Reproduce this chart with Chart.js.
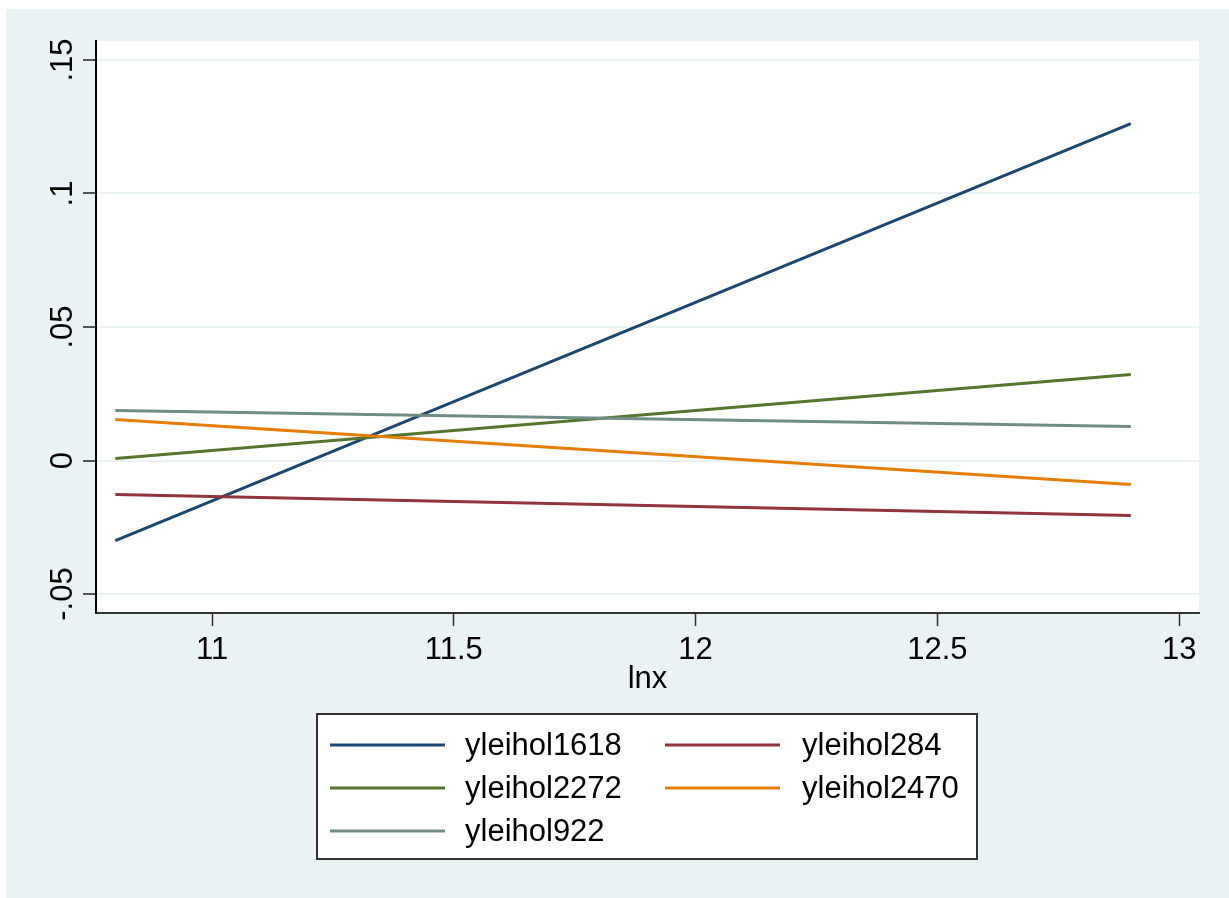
<!DOCTYPE html>
<html>
<head>
<meta charset="utf-8">
<script src="https://cdn.jsdelivr.net/npm/chart.js@4/dist/chart.umd.min.js"></script>
<style>
  html, body { margin: 0; padding: 0; background: #ffffff; }
  #wrap { width: 1229px; height: 898px; position: relative; }
</style>
</head>
<body>
<div id="wrap"><canvas id="c" width="1229" height="898"></canvas></div>
<script>
// ---- data ----
const xValues = [10.8, 12.9];
const seriesNames = ['yleihol1618', 'yleihol284', 'yleihol2272', 'yleihol2470', 'yleihol922'];
const yleihol1618 = [-0.0300, 0.1262];
const yleihol284  = [-0.0127, -0.0206];
const yleihol2272 = [0.0008, 0.0322];
const yleihol2470 = [0.0154, -0.0090];
const yleihol922  = [0.0187, 0.0127];
const seriesColors = ['#1A476F', '#90353B', '#55752F', '#E37E00', '#6E8E84'];
const xTickValues = [11, 11.5, 12, 12.5, 13];
const xTickLabels = ['11', '11.5', '12', '12.5', '13'];
const yTickValues = [-0.05, 0, 0.05, 0.1, 0.15];
const yTickLabels = ['-.05', '0', '.05', '.1', '.15'];
const xTitle = 'lnx';

const seriesValues = [yleihol1618, yleihol284, yleihol2272, yleihol2470, yleihol922];
const FONT = '"Liberation Sans", Arial, Helvetica, sans-serif';
const FS = 31;
const BG = '#EAF2F3';

const datasets = seriesNames.map((name, i) => ({
  label: name,
  data: xValues.map((x, j) => ({ x: x, y: seriesValues[i][j] })),
  borderColor: seriesColors[i],
  backgroundColor: seriesColors[i],
  borderWidth: 3,
  pointRadius: 0,
  tension: 0,
  fill: false,
  order: seriesNames.length - i
}));

const bgPlugin = {
  id: 'bg',
  beforeDraw(chart) {
    const ctx = chart.ctx, a = chart.chartArea;
    ctx.save();
    ctx.fillStyle = '#ffffff';
    ctx.fillRect(0, 0, chart.width, chart.height);
    ctx.fillStyle = BG;
    ctx.fillRect(6, 9, chart.width - 6, chart.height - 9);
    ctx.fillStyle = '#ffffff';
    ctx.fillRect(a.left, a.top, a.right - a.left, a.bottom - a.top);
    ctx.restore();
  },
  afterDraw(chart) {
    const ctx = chart.ctx;
    const ys = chart.scales.y;
    // rotated y tick labels
    ctx.save();
    ctx.fillStyle = '#000';
    ctx.font = FS + 'px ' + FONT;
    ctx.textAlign = 'center';
    ctx.textBaseline = 'alphabetic';
    yTickValues.forEach((v, i) => {
      const py = ys.getPixelForValue(v);
      ctx.save();
      ctx.translate(72, py);
      ctx.rotate(-Math.PI / 2);
      ctx.fillText(yTickLabels[i], 0, 0);
      ctx.restore();
    });
    ctx.restore();

    // legend box
    const bx = 317, by = 714, bw = 660, bh = 145;
    ctx.save();
    ctx.fillStyle = '#ffffff';
    ctx.fillRect(bx, by, bw, bh);
    ctx.strokeStyle = '#333333';
    ctx.lineWidth = 2;
    ctx.strokeRect(bx, by, bw, bh);
    const cols = [{ l0: 330, l1: 445, tx: 465 }, { l0: 665, l1: 780, tx: 802 }];
    const rows = [745, 788, 831];
    ctx.font = FS + 'px ' + FONT;
    ctx.textBaseline = 'middle';
    ctx.textAlign = 'left';
    chart.data.datasets.forEach((ds, i) => {
      const c = cols[i % 2], r = rows[Math.floor(i / 2)];
      ctx.strokeStyle = ds.borderColor;
      ctx.lineWidth = 3;
      ctx.beginPath();
      ctx.moveTo(c.l0, r);
      ctx.lineTo(c.l1, r);
      ctx.stroke();
      ctx.fillStyle = '#000';
      ctx.fillText(ds.label, c.tx, r + 1);
    });
    ctx.restore();
  }
};

new Chart(document.getElementById('c'), {
  type: 'line',
  data: { datasets: datasets },
  plugins: [bgPlugin],
  options: {
    responsive: false,
    animation: false,
    devicePixelRatio: 1,
    layout: { padding: { left: 0, top: 41, right: 30, bottom: 199.5 } },
    plugins: { legend: { display: false }, tooltip: { enabled: false } },
    scales: {
      x: {
        type: 'linear',
        min: 10.76,
        max: 13.041,
        afterBuildTicks: (s) => { s.ticks = xTickValues.map(v => ({ value: v })); },
        afterFit: (s) => { s.height = 85.5; },
        ticks: {
          autoSkip: false,
          maxRotation: 0,
          padding: 6,
          color: '#000',
          font: { family: FONT, size: FS, lineHeight: 1.2 },
          callback: (v) => { const k = xTickValues.indexOf(v); return k >= 0 ? xTickLabels[k] : ''; }
        },
        grid: { drawOnChartArea: false, tickLength: 13, tickColor: '#333', tickWidth: 1.5 },
        border: { display: true, color: '#333', width: 2 },
        title: { display: true, text: xTitle, color: '#000', padding: 0, font: { family: FONT, size: FS, lineHeight: 1.2 } }
      },
      y: {
        type: 'linear',
        min: -0.0571,
        max: 0.1571,
        afterBuildTicks: (s) => { s.ticks = yTickValues.map(v => ({ value: v })); },
        afterFit: (s) => { s.width = 96; },
        ticks: { display: false },
        grid: { color: BG, lineWidth: 2, tickLength: 13, tickColor: '#222', tickWidth: 1.5, drawTicks: true },
        border: { display: true, color: '#000', width: 2 }
      }
    }
  }
});
</script>
</body>
</html>
